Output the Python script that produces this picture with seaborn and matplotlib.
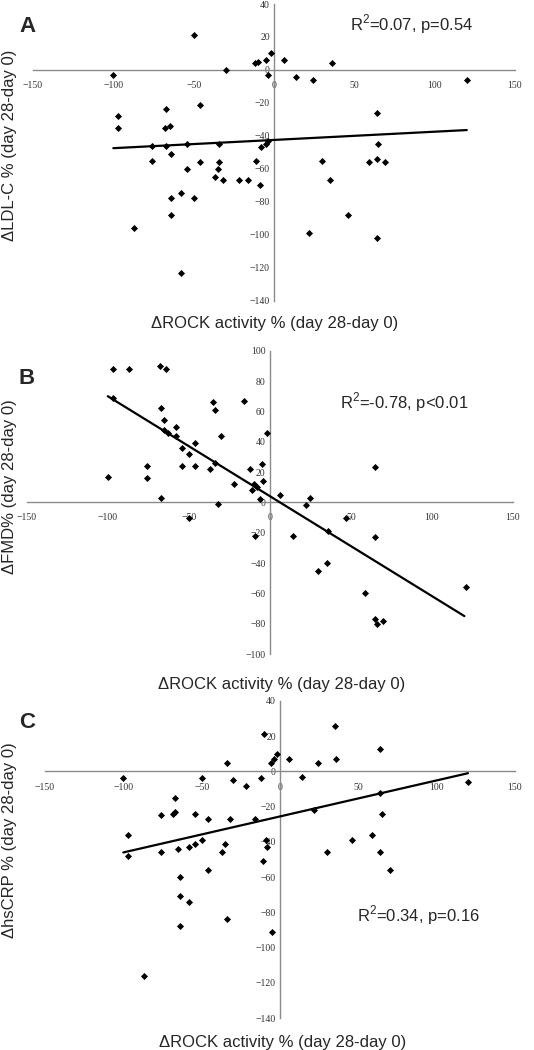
import numpy as np
import pandas as pd
import matplotlib
matplotlib.use("Agg")
import matplotlib.pyplot as plt
import seaborn as sns

# ---- Panel A: dLDL-C vs dROCK ----
a_x = [-100, -50, -30, -12, -10, -5, -2, -4, 6, 14, 24, 36, 120,
       -97, -97, -46, -67, -68, -65, 64,
       -76, -67, -64, -54, -34, -8, -5, -4, 65,
       -76, -54, -46, -34, -35, -11, 30, 59, 64, 69,
       -37, -32, -22, -16, -9, 35,
       -64, -58, -50, -64, -87, 22, 46, 64, -58]
a_y = [-3, 21, 0, 4, 5, 6, 10, -3, 6, -4, -6, 4, -6,
       -28, -35, -21, -24, -35, -34, -26,
       -46, -46, -51, -45, -45, -47, -45, -43, -45,
       -55, -60, -56, -56, -60, -55, -55, -56, -54, -56,
       -65, -67, -67, -67, -70, -67,
       -78, -75, -78, -88, -96, -99, -88, -102, -123]
a_fit_x = [-100, 120]
a_fit_y = [-47.5, -36.5]

# ---- Panel B: dFMD vs dROCK ----
b_x = [-97, -87, -68, -64, -97, -67, -65, -65, -63, -58, -58, -54, -50, -46,
       -54, -46, -37, -34, -35, -34, -30, -16, -2, -12, -5, -22, -10, -8,
       -11, -4, -6, 6, 25, 22, -100, -76, -76, -67, -32, -50, 47, 65,
       -9, 14, 36, 65, 35, 30, 59, 65, 66, 70, 121]
b_y = [88, 88, 90, 88, 69, 62, 54, 48, 46, 50, 44, 36, 32, 39,
       24, 24, 22, 26, 66, 61, 44, 67, 46, 22, 25, 12, 12, 10,
       8, 14, 2, 5, 3, -2, 17, 24, 16, 3, -1, -10, -10, 23,
       -22, -22, -19, -23, -40, -45, -60, -77, -80, -78, -56]
b_fit_x = [-100, 120]
b_fit_y = [70, -75]

# ---- Panel C: dhsCRP vs dROCK ----
c_x = [-100, -97, -97, -50, -34, -30, -22, -12, -10, -6, -4, -2, 6, 14,
       24, 35, 36, 64, 120, -67, -76, -68, -67, -54, -46, -32, -16, 22,
       64, 65, -76, -65, -58, -54, -50, -35, -37, -9, -8, -11, 30, 46,
       59, 64, -46, 70, -64, -64, -58, -64, -34, -5, -87]
c_y = [-4, -36, -48, -4, 5, -5, -8, -4, 21, 5, 7, 10, 7, -3,
       5, 26, 7, 13, -6, -15, -25, -24, -23, -24, -27, -27, -27, -22,
       -12, -24, -46, -44, -43, -41, -39, -41, -46, -39, -43, -51, -46, -39,
       -36, -46, -56, -56, -60, -71, -74, -88, -84, -91, -116]
c_fit_x = [-100, 120]
c_fit_y = [-46, -1]

x_ticks = [-150, -100, -50, 0, 50, 100, 150]
a_y_ticks = [-140, -120, -100, -80, -60, -40, -20, 0, 20, 40]
b_y_ticks = [-100, -80, -60, -40, -20, 0, 20, 40, 60, 80, 100]
c_y_ticks = [-140, -120, -100, -80, -60, -40, -20, 0, 20, 40]

x_label = "\u0394ROCK activity % (day 28-day 0)"
a_ylabel = "\u0394LDL-C % (day 28-day 0)"
b_ylabel = "\u0394FMD% (day 28-day 0)"
c_ylabel = "\u0394hsCRP % (day 28-day 0)"
a_note = "R$^2$=0.07, p=0.54"
b_note = "R$^2$=-0.78, p<0.01"
c_note = "R$^2$=0.34, p=0.16"

sns.set_style("white")
plt.rcParams["font.family"] = ["Liberation Sans", "DejaVu Sans"]
plt.rcParams["mathtext.fontset"] = "custom"
plt.rcParams["mathtext.rm"] = "Liberation Sans"

W, H = 534, 1050
fig = plt.figure(figsize=(W / 100, H / 100), dpi=100)

def px_axes(x0, x1, ytop, ybot):
    return fig.add_axes([x0 / W, 1 - ybot / H, (x1 - x0) / W, (ybot - ytop) / H])

panels = [
    dict(ax=px_axes(33, 515, 4, 300.6), x=a_x, y=a_y, fx=a_fit_x, fy=a_fit_y,
         yt=a_y_ticks, ylim=(-140, 40), ylabel=a_ylabel, note=a_note,
         note_xy=(412, 24), letter="A", letter_xy=(27, 26),
         ylab_xy=(10, 145), xlab_xy=(275, 324)),
    dict(ax=px_axes(26.7, 513, 350.7, 654), x=b_x, y=b_y, fx=b_fit_x, fy=b_fit_y,
         yt=b_y_ticks, ylim=(-100, 100), ylabel=b_ylabel, note=b_note,
         note_xy=(404, 402), letter="B", letter_xy=(27, 378),
         ylab_xy=(10, 487), xlab_xy=(282, 685)),
    dict(ax=px_axes(45, 515, 701, 1018), x=c_x, y=c_y, fx=c_fit_x, fy=c_fit_y,
         yt=c_y_ticks, ylim=(-140, 40), ylabel=c_ylabel, note=c_note,
         note_xy=(419, 915), letter="C", letter_xy=(27, 722),
         ylab_xy=(10, 840), xlab_xy=(283, 1043)),
]

axis_col = "#8a8a8a"
for p in panels:
    ax = p["ax"]
    df = pd.DataFrame({"x": p["x"], "y": p["y"]})
    fit = pd.DataFrame({"x": p["fx"], "y": p["fy"]})
    sns.lineplot(data=fit, x="x", y="y", ax=ax, color="black", linewidth=1.6, zorder=3)
    sns.scatterplot(data=df, x="x", y="y", ax=ax, marker="D", s=13,
                    color="black", edgecolor="black", linewidth=0, zorder=4)
    ax.set_xlim(-150, 150)
    ax.set_ylim(*p["ylim"])
    ax.set_xticks(x_ticks)
    ax.set_yticks(p["yt"])
    ax.set_xlabel("")
    ax.set_ylabel("")
    for s in ["top", "right"]:
        ax.spines[s].set_visible(False)
    for s in ["left", "bottom"]:
        ax.spines[s].set_position(("data", 0))
        ax.spines[s].set_color(axis_col)
        ax.spines[s].set_linewidth(1.0)
    ax.tick_params(axis="x", direction="in", length=3, width=0.8, color=axis_col,
                   labelsize=7, labelcolor="#333333", pad=8)
    ax.tick_params(axis="y", direction="in", length=3, width=0.8, color=axis_col,
                   labelsize=7, labelcolor="#333333", pad=3)
    for lab in ax.get_xticklabels() + ax.get_yticklabels():
        lab.set_family(["Liberation Serif", "DejaVu Serif"])
    ax.set_facecolor("none")
    ax.patch.set_alpha(0)

    fig.text(p["note_xy"][0] / W, 1 - p["note_xy"][1] / H, p["note"],
             ha="center", va="center", fontsize=12)
    fig.text(p["letter_xy"][0] / W, 1 - p["letter_xy"][1] / H, p["letter"],
             ha="center", va="center", fontsize=16, fontweight="bold")
    fig.text(p["ylab_xy"][0] / W, 1 - p["ylab_xy"][1] / H, p["ylabel"],
             ha="center", va="center", fontsize=12, rotation=90)
    fig.text(p["xlab_xy"][0] / W, 1 - p["xlab_xy"][1] / H, x_label,
             ha="center", va="center", fontsize=12)

fig.savefig("out.png", dpi=100, facecolor="white")
